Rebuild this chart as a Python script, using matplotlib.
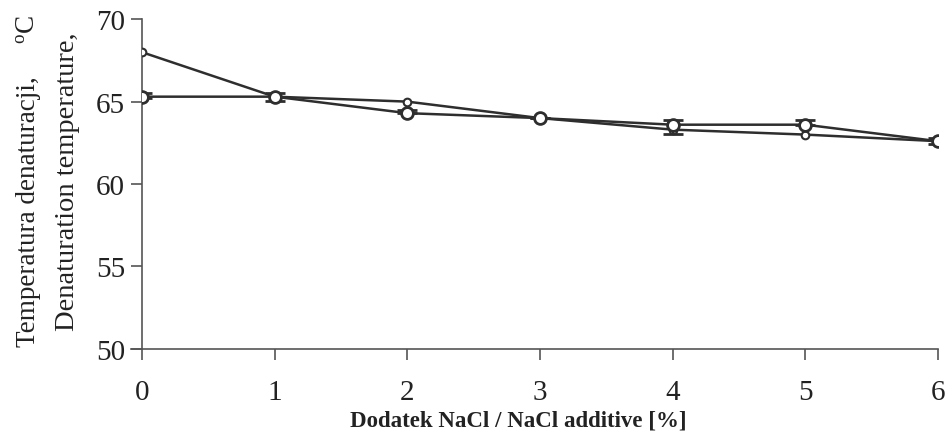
import matplotlib
matplotlib.use("Agg")
import matplotlib.pyplot as plt

nacl = [0, 1, 2, 3, 4, 5, 6]
series_a = [68.0, 65.3, 65.0, 64.0, 63.3, 63.0, 62.6]
series_b = [65.3, 65.3, 64.3, 64.0, 63.6, 63.6, 62.6]
err_b_low = [0.1, 0.25, 0.0, 0.0, 0.55, 0.0, 0.2]
err_b_high = [0.25, 0.25, 0.2, 0.0, 0.3, 0.3, 0.2]

yticks = [50, 55, 60, 65, 70]
xticks = [0, 1, 2, 3, 4, 5, 6]

plt.rcParams['font.family'] = ['Liberation Serif', 'DejaVu Serif']
plt.rcParams['mathtext.fontset'] = 'custom'
plt.rcParams['mathtext.rm'] = 'Liberation Serif'

fig = plt.figure(figsize=(9.46, 4.39), dpi=100)
ax = fig.add_axes([0.150, 0.203, 0.8415, 0.751])

lc = '#2e2e2e'
ax.plot(nacl, series_a, color=lc, lw=1.8, marker='o', ms=5.5,
        mfc='white', mec=lc, mew=1.5, zorder=3)
ax.errorbar(nacl, series_b, yerr=[err_b_low, err_b_high], color=lc, lw=1.8,
            marker='o', ms=8.5, mfc='white', mec=lc, mew=2.0,
            capsize=7, capthick=2.0, elinewidth=1.5, zorder=4)

ax.set_xlim(0, 6)
ax.set_ylim(50, 70)
ax.set_xticks(xticks)
ax.set_yticks(yticks)
for s in ['top', 'right']:
    ax.spines[s].set_visible(False)
for s in ['left', 'bottom']:
    ax.spines[s].set_color('#555555')
    ax.spines[s].set_linewidth(1.2)
ax.spines['bottom'].set_bounds(-0.08, 6)
ax.tick_params(axis='both', direction='out', length=8, width=1.2,
               color='#555555', labelsize=21, labelcolor='#222222')
ax.tick_params(axis='x', pad=14)
ax.tick_params(axis='y', pad=4)

ax.set_xlabel('Dodatek NaCl / NaCl additive [%]', fontsize=16.5,
              fontweight='bold', color='#222222')
ax.xaxis.set_label_coords(0.4725, -0.183)

fig.text(0.030, 0.517, 'Temperatura denaturacji,', rotation=90,
         fontsize=19.5, color='#222222', ha='center', va='center')
fig.text(0.030, 0.932, '$\\mathrm{^{o}C}$', rotation=90,
         fontsize=19.5, color='#222222', ha='center', va='center')
fig.text(0.071, 0.585, 'Denaturation temperature,', rotation=90,
         fontsize=20.5, color='#222222', ha='center', va='center')

fig.savefig('out.png', dpi=100)
